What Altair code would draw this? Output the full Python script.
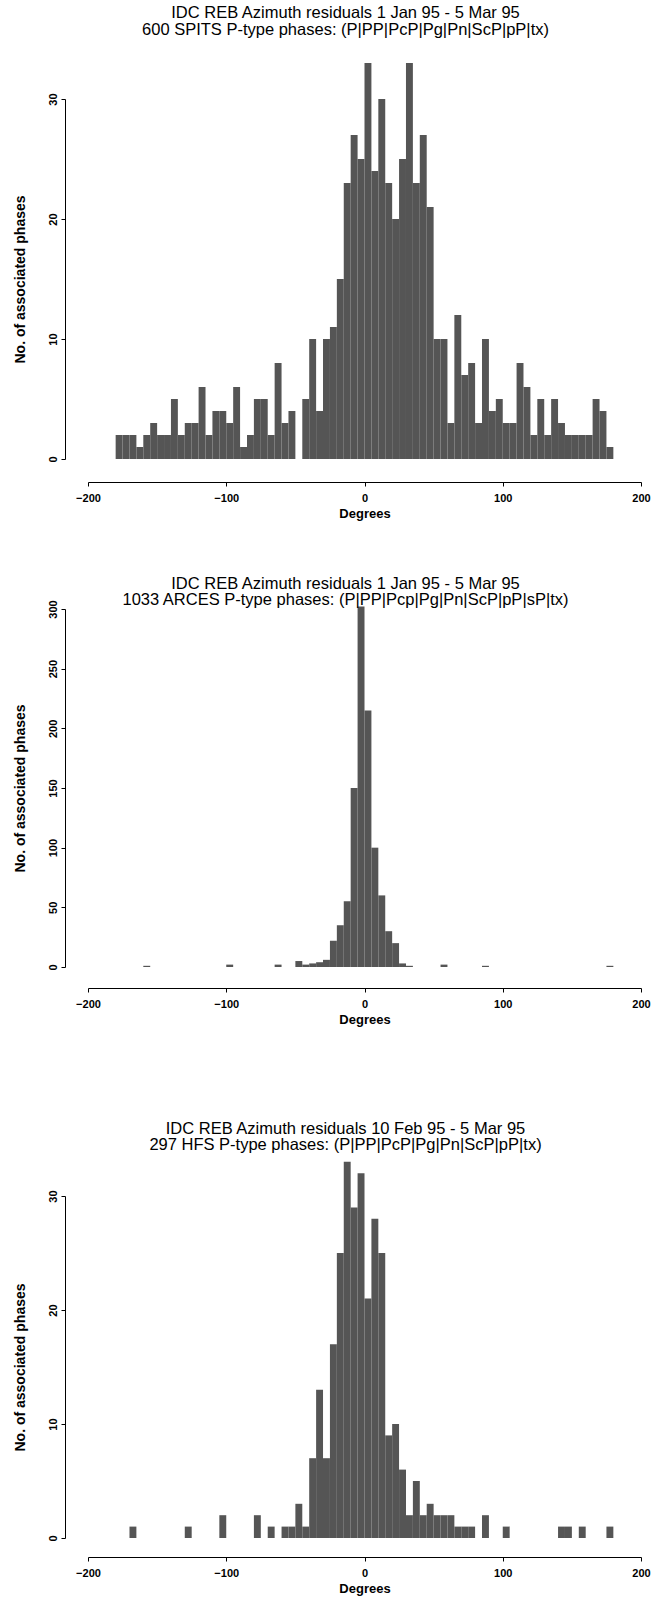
import altair as alt
import pandas as pd

# 5-degree bins from -180 to 180
bin_starts = list(range(-180, 180, 5))

spits_counts = [2, 2, 2, 1, 2, 3, 2, 2, 5, 2, 3, 3, 6, 2, 4, 4, 3, 6, 1, 2, 5, 5, 2, 8,
                3, 4, 0, 5, 10, 4, 10, 11, 15, 23, 27, 25,
                33, 24, 30, 23, 20, 25, 33, 23, 27, 21, 10, 10, 3, 12, 7, 8, 3, 10,
                4, 5, 3, 3, 8, 6, 2, 5, 2, 5, 3, 2, 2, 2, 2, 5, 4, 1]

arces_bins = [-160, -100, -65, -50, -45, -40, -35, -30, -25, -20, -15, -10, -5, 0, 5, 10, 15, 20, 25, 30, 55, 85, 175]
arces_vals = [1, 2, 2, 5, 2, 3, 4, 6, 22, 35, 55, 150, 302, 215, 100, 60, 30, 20, 3, 1, 2, 1, 1]

hfs_bins = [-170, -130, -105, -80, -70, -60, -55, -50, -45, -40, -35, -30, -25, -20, -15, -10, -5,
            0, 5, 10, 15, 20, 25, 30, 35, 40, 45, 50, 55, 60, 65, 70, 75, 85, 100, 140, 145, 155, 175]
hfs_vals = [1, 1, 2, 2, 1, 1, 1, 3, 1, 7, 13, 7, 17, 25, 33, 29, 32,
            21, 28, 25, 9, 10, 6, 2, 5, 2, 3, 2, 2, 2, 1, 1, 1, 2, 1, 1, 1, 1, 1]

titles = [
    ["IDC REB Azimuth residuals 1 Jan 95 - 5 Mar 95",
     "600 SPITS P-type phases: (P|PP|PcP|Pg|Pn|ScP|pP|tx)"],
    ["IDC REB Azimuth residuals 1 Jan 95 - 5 Mar 95",
     "1033 ARCES P-type phases: (P|PP|Pcp|Pg|Pn|ScP|pP|sP|tx)"],
    ["IDC REB Azimuth residuals 10 Feb 95 - 5 Mar 95",
     "297 HFS P-type phases: (P|PP|PcP|Pg|Pn|ScP|pP|tx)"],
]

FILL = "#555555"
FONT = "Liberation Sans"


def frame(bins, vals):
    df = pd.DataFrame({"start": bins, "count": vals})
    df["end"] = df["start"] + 5
    return df[df["count"] > 0]


def panel(df, title, ymax, yvals, height, toff, xoff):
    return alt.Chart(df, title=alt.Title(
        title, font=FONT, fontSize=16.5, fontWeight="normal", anchor="middle",
        dx=-19, offset=toff, lineHeight=16.5, color="black")).mark_bar(
        color=FILL, clip=False, strokeWidth=0).encode(
        x=alt.X("start:Q", scale=alt.Scale(domain=[-200, 200], nice=False, zero=False),
                axis=alt.Axis(values=[-200, -100, 0, 100, 200], title="Degrees", offset=xoff,
                              grid=False, tickSize=4, labelPadding=6, titlePadding=4,
                              labelFlush=False)),
        x2="end:Q",
        y=alt.Y("count:Q", scale=alt.Scale(domain=[0, ymax], nice=False),
                axis=alt.Axis(values=yvals, title="No. of associated phases", offset=23,
                              grid=False, tickSize=4, labelAngle=270, labelPadding=3,
                              titlePadding=20, labelFlush=False)),
        y2=alt.datum(0),
    ).properties(width=553, height=height)


p1 = panel(frame(bin_starts, spits_counts), titles[0], 30, [0, 10, 20, 30], 360, 25, 23)
p2 = panel(frame(arces_bins, arces_vals), titles[1], 300, [0, 50, 100, 150, 200, 250, 300], 358, -9, 21)
p3 = panel(frame(hfs_bins, hfs_vals), titles[2], 30, [0, 10, 20, 30], 342, 8, 19)

top = alt.VConcatChart(vconcat=[p1, p2], spacing=150, bounds="flush")
chart = alt.VConcatChart(vconcat=[top, p3], spacing=94).configure_view(
    stroke=None).configure_axis(
    labelFont=FONT, labelFontWeight="bold", labelFontSize=11, labelColor="black",
    titleFont=FONT, titleFontWeight="bold", titleFontSize=13, titleColor="black",
    domainColor="black", tickColor="black", domainWidth=1).configure_axisY(
    titleFontSize=14).properties(
    padding={"left": 13, "top": 4, "right": 2, "bottom": 2}, background="white")

chart.save("out.html", embed_options={"renderer": "svg", "actions": False})
